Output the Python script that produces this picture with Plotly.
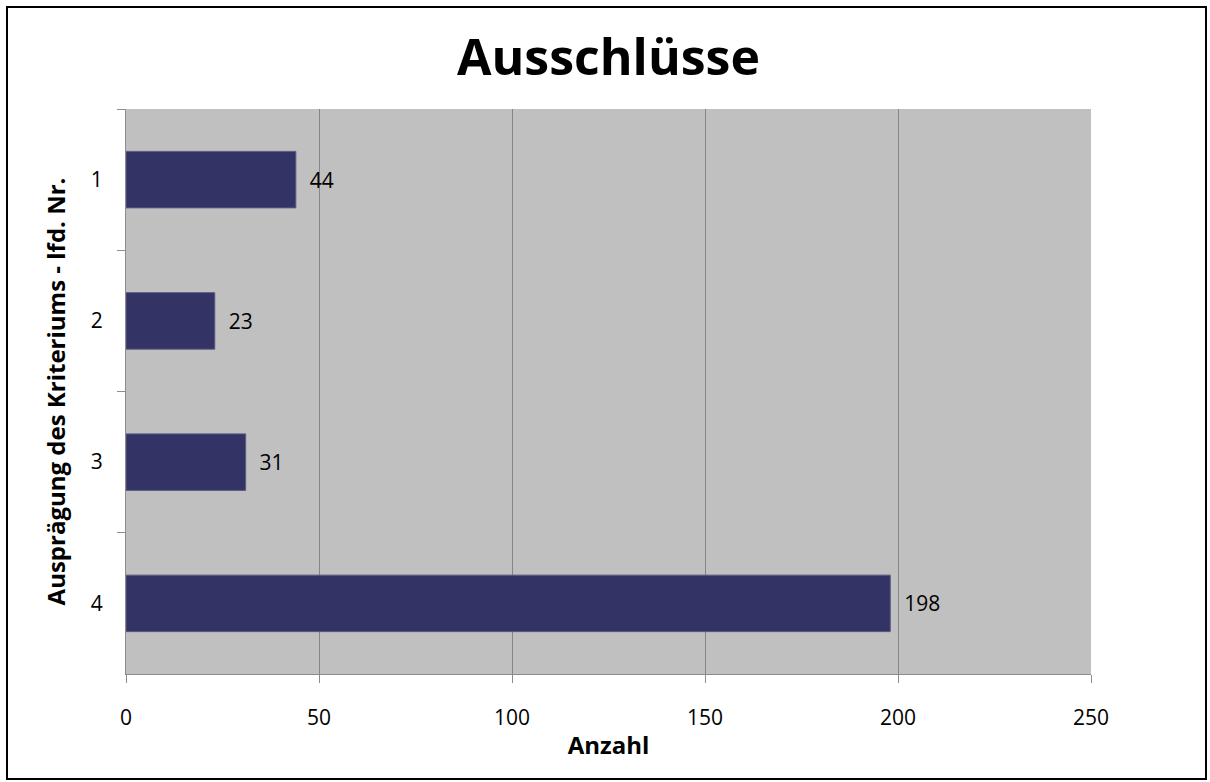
import plotly.graph_objects as go

categories = ["1", "2", "3", "4"]
values = [44, 23, 31, 198]
x_ticks = [0, 50, 100, 150, 200, 250]

FONT = "Open Sans"
L, R, T, B = 126, 119, 109, 108
W, H = 1210, 782
pw, ph = W - L - R, H - T - B

fig = go.Figure(go.Bar(
    y=categories, x=values, orientation="h",
    marker=dict(color="#333366", line=dict(color="#5a5a80", width=1)),
    width=0.4,
    text=["\u00a0\u00a0" + str(v) for v in values], textposition="outside",
    textfont=dict(family=FONT, size=21, color="#000000"),
    cliponaxis=False,
))

fig.update_layout(
    width=W, height=H,
    margin=dict(l=L, r=R, t=T, b=B),
    paper_bgcolor="white", plot_bgcolor="#c0c0c0",
    showlegend=False,
    title=dict(text="<b>Ausschlüsse</b>", x=0.5, xref="paper", xanchor="center",
               y=1 - 57 / H, yanchor="middle",
               font=dict(family=FONT, size=50, color="#000000")),
    xaxis=dict(range=[0, 250], tickvals=x_ticks, showgrid=True, gridcolor="#858585", gridwidth=1,
               zeroline=False, showline=True, linecolor="#8c8c8c", linewidth=1,
               ticks="outside", ticklen=8, tickcolor="#8c8c8c", ticklabelstandoff=17,
               tickfont=dict(family=FONT, size=21, color="#000000"),
               title=dict(text="<b>Anzahl</b>", font=dict(family=FONT, size=24, color="#000000"), standoff=6),
               fixedrange=True),
    yaxis=dict(type="category", categoryorder="array", categoryarray=categories,
               autorange="reversed", showgrid=False, showline=True, linecolor="#8c8c8c", linewidth=1,
               ticks="outside", ticklen=8, tickcolor="#8c8c8c", tickson="boundaries",
               ticklabelstandoff=18,
               tickfont=dict(family=FONT, size=21, color="#000000"),
               title=dict(text="<b>Ausprägung des Kriteriums - lfd. Nr.</b>",
                          font=dict(family=FONT, size=24, color="#000000"), standoff=18),
               fixedrange=True),
)

# outer chart border
fig.add_shape(type="rect", xref="paper", yref="paper",
              x0=(7 - L) / pw, x1=(1206 - L) / pw,
              y0=(H - B - 779) / ph, y1=(H - B - 7) / ph,
              line=dict(color="#000000", width=2), fillcolor="rgba(0,0,0,0)", layer="above")

fig.write_html("out.html", config={"displayModeBar": False},
               post_script="document.body.style.margin='0px';document.body.style.padding='0px';")
